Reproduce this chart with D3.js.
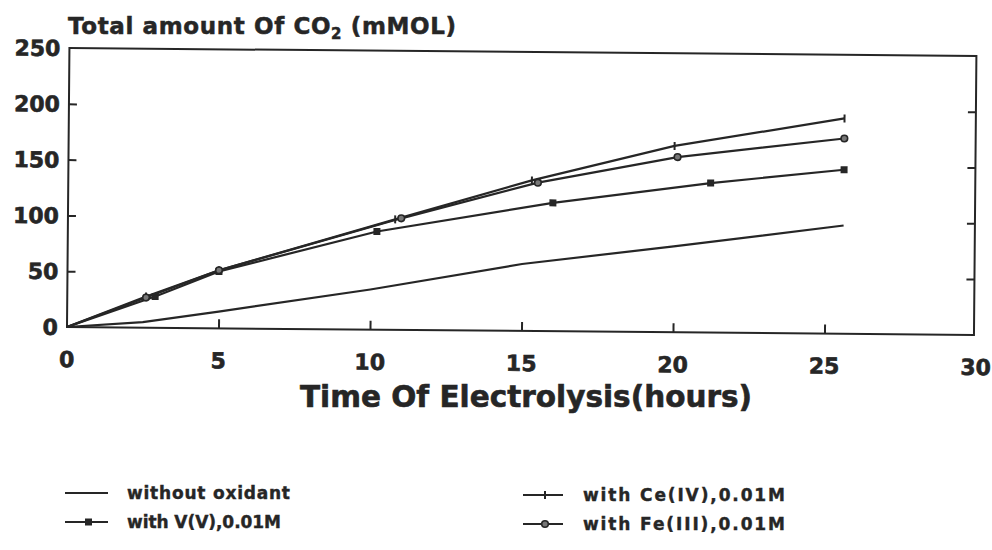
<!DOCTYPE html>
<html>
<head>
<meta charset="utf-8">
<script src="https://cdn.jsdelivr.net/npm/d3@7/dist/d3.min.js"></script>
<style>
  html, body { margin: 0; padding: 0; background: #fff; }
  svg { display: block; }
  text { font-family: "DejaVu Sans", sans-serif; font-weight: bold; fill: #262626; }
</style>
</head>
<body>
<svg id="chart" width="992" height="550"></svg>
<script>
// ---- data ----
const xTicks = [0, 5, 10, 15, 20, 25, 30];
const yTicks = [0, 50, 100, 150, 200, 250];

const seriesNames = ["without oxidant", "with Ce(IV),0.01M", "with V(V),0.01M", "with Fe(III),0.01M"];

const withoutX = [0, 2.5, 5, 10, 15, 20, 25.6];
const withoutY = [0, 5, 15, 36, 60, 77, 97];

const ceX = [0, 2.6, 5, 10.8, 15.3, 20, 25.6];
const ceY = [0, 28, 52, 99, 135, 167, 193];

const vX = [0, 2.9, 5, 10.2, 16, 21.2, 25.6];
const vY = [0, 28, 51, 88, 115, 134, 147];

const feX = [0, 2.6, 5, 11, 15.5, 20.1, 25.6];
const feY = [0, 27, 52, 100, 133, 157, 175];

const yTitle = "Total amount Of CO";
const xTitle = "Time Of Electrolysis(hours)";

// ---- drawing ----
const svg = d3.select("#chart");
const ink = "#262626";
const L = 67, R = 976, T = 48, B = 327;

const x = d3.scaleLinear().domain([0, 30]).range([L, R]);
const y = d3.scaleLinear().domain([0, 250]).range([B, T]);

// slight scan tilt of the original page
const g = svg.append("g").attr("transform", `rotate(0.5, ${L}, ${B})`);

// frame
g.append("rect")
  .attr("x", L).attr("y", T)
  .attr("width", R - L - 2).attr("height", B - T)
  .attr("fill", "none").attr("stroke", ink).attr("stroke-width", 2);

// left axis: inward ticks, labels
const yAxisL = d3.axisRight(y).tickValues(yTicks.slice(1, -1)).tickSize(8).tickFormat("");
g.append("g").attr("transform", `translate(${L},0)`).call(yAxisL)
  .call(s => s.select(".domain").remove())
  .call(s => s.selectAll("line").attr("stroke", ink).attr("stroke-width", 2));
g.append("g").selectAll("text").data(yTicks).join("text")
  .attr("x", L - 9).attr("y", d => y(d) + 8)
  .attr("text-anchor", "end").attr("font-size", 22)
  .attr("stroke", "#262626").attr("stroke-width", 0.6)
  .text(d => d);

// right axis inward ticks
const yAxisR = d3.axisLeft(y).tickValues(yTicks.slice(1, -1)).tickSize(8).tickFormat("");
g.append("g").attr("transform", `translate(${R - 2},0)`).call(yAxisR)
  .call(s => s.select(".domain").remove())
  .call(s => s.selectAll("line").attr("stroke", ink).attr("stroke-width", 2));

// bottom axis inward ticks + labels
const xAxis = d3.axisTop(x).tickValues(xTicks.slice(1, -1)).tickSize(9).tickFormat("");
g.append("g").attr("transform", `translate(0,${B})`).call(xAxis)
  .call(s => s.select(".domain").remove())
  .call(s => s.selectAll("line").attr("stroke", ink).attr("stroke-width", 2));
g.append("g").selectAll("text").data(xTicks).join("text")
  .attr("x", d => x(d)).attr("y", B + 40)
  .attr("text-anchor", "middle").attr("font-size", 22)
  .attr("stroke", "#262626").attr("stroke-width", 0.6)
  .text(d => d);

// series lines
const line = d3.line().x(d => x(d[0])).y(d => y(d[1])).curve(d3.curveLinear);
const zipS = (xs, ys) => xs.map((v, i) => [v, ys[i]]);
const series = [
  { name: seriesNames[0], pts: zipS(withoutX, withoutY), marker: "none" },
  { name: seriesNames[1], pts: zipS(ceX, ceY), marker: "plus" },
  { name: seriesNames[2], pts: zipS(vX, vY), marker: "square" },
  { name: seriesNames[3], pts: zipS(feX, feY), marker: "circle" }
];

function drawMarker(sel, type, cx, cy) {
  if (type === "plus") {
    sel.append("line").attr("x1", cx).attr("x2", cx).attr("y1", cy - 4).attr("y2", cy + 4)
      .attr("stroke", ink).attr("stroke-width", 2);
  } else if (type === "square") {
    sel.append("rect").attr("x", cx - 3.5).attr("y", cy - 3.5).attr("width", 7).attr("height", 7)
      .attr("fill", ink);
  } else if (type === "circle") {
    sel.append("circle").attr("cx", cx).attr("cy", cy).attr("r", 3.3)
      .attr("fill", "#777").attr("stroke", ink).attr("stroke-width", 1.6);
  }
}

series.forEach(s => {
  g.append("path").datum(s.pts).attr("d", line)
    .attr("fill", "none").attr("stroke", ink).attr("stroke-width", 2.2)
    .attr("stroke-linejoin", "round");
  const mg = g.append("g");
  s.pts.slice(1).forEach(p => drawMarker(mg, s.marker, x(p[0]), y(p[1])));
});

// y title
const yt = svg.append("text").attr("x", 68).attr("y", 34).attr("font-size", 23)
  .attr("stroke", "#262626").attr("stroke-width", 0.5)
  .attr("textLength", 388).attr("lengthAdjust", "spacing");
yt.append("tspan").text(yTitle);
yt.append("tspan").attr("font-size", 15).attr("dy", 5).text("2");
yt.append("tspan").attr("dy", -5).text(" (mMOL)");

// x title
svg.append("text").attr("x", 526).attr("y", 407).attr("text-anchor", "middle")
  .attr("font-size", 30).attr("textLength", 452).attr("lengthAdjust", "spacingAndGlyphs")
  .attr("stroke", "#262626").attr("stroke-width", 0.6)
  .text(xTitle);

// legend
const legend = [
  { s: series[0], lx: 65, tx: 127, ly: 493, w: 163 },
  { s: series[2], lx: 65, tx: 127, ly: 522, w: 154 },
  { s: series[1], lx: 523, tx: 583, ly: 495, w: 202 },
  { s: series[3], lx: 523, tx: 583, ly: 524, w: 202 }
];
const lg = svg.append("g");
legend.forEach(e => {
  const len = e.lx < 100 ? 43 : 40;
  lg.append("line").attr("x1", e.lx).attr("x2", e.lx + len).attr("y1", e.ly).attr("y2", e.ly)
    .attr("stroke", ink).attr("stroke-width", 2.2);
  drawMarker(lg, e.s.marker, e.lx + len / 2 + 2, e.ly);
  lg.append("text").attr("x", e.tx).attr("y", e.ly + 6).attr("font-size", 17)
    .attr("stroke", "#262626").attr("stroke-width", 0.4)
    .attr("textLength", e.w).attr("lengthAdjust", "spacing")
    .text(e.s.name);
});
</script>
</body>
</html>
